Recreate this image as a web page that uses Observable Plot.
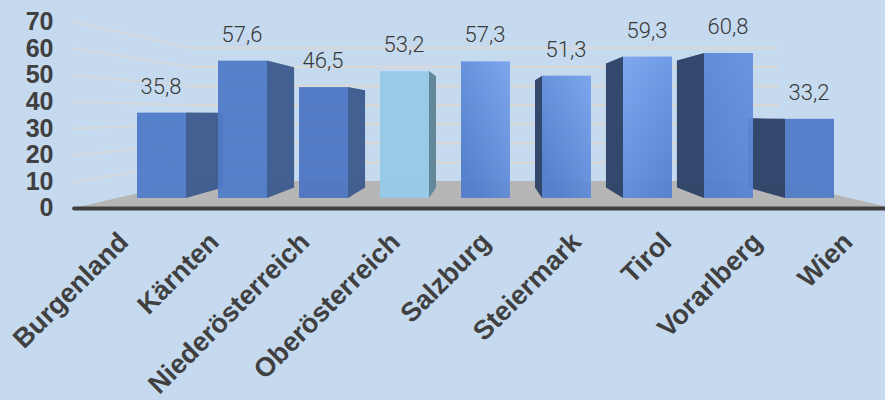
<!DOCTYPE html>
<html>
<head>
<meta charset="utf-8">
<script src="https://cdn.jsdelivr.net/npm/d3@7"></script>
<script src="https://cdn.jsdelivr.net/npm/@observablehq/plot@0.6"></script>
<style>
  html, body { margin: 0; padding: 0; background: #c5daef; overflow: hidden; }
  svg { display: block; }
</style>
</head>
<body>
<div id="chart"></div>
<script>
const regions = ["Burgenland", "Kärnten", "Niederösterreich", "Oberösterreich", "Salzburg", "Steiermark", "Tirol", "Vorarlberg", "Wien"];
const shares = [35.8, 57.6, 46.5, 53.2, 57.3, 51.3, 59.3, 60.8, 33.2];
const shareLabels = ["35,8", "57,6", "46,5", "53,2", "57,3", "51,3", "59,3", "60,8", "33,2"];
const gridValues = [0, 10, 20, 30, 40, 50, 60, 70];

// One-point perspective: depth 0 is the bars' front plane, positive depth
// runs towards the back wall, negative depth towards the viewer.
const vanishX = 4, vanishY = 35.6;
const barHalf = 0.3025;
const barDepth = 0.124, wallDepth = 0.2, floorFront = -0.1176;
const px = (x, d) => x + (vanishX - x) * d;
const py = (y, d) => y + (vanishY - y) * d;
const xMin = -0.55, xMax = 8.5;

const ink = "#404040";
const frontFill = (name) => ({
  "Oberösterreich": "#96cae9",
  "Salzburg": "url(#glowRight)",
  "Steiermark": "url(#glowRight)",
  "Tirol": "url(#glowLeft)",
  "Vorarlberg": "url(#glowSoft)",
  "Niederösterreich": "#4c75c2"
}[name] ?? "#4f7bc8");

const bars = regions.map((name, i) => ({name, i, value: shares[i], label: shareLabels[i]}));

// Visible side wall of each bar: towards the vanishing point from its inner edge.
const sideFaces = bars.filter((b) => b.i !== vanishX).flatMap((b) => {
  const edge = b.i < vanishX ? b.i + barHalf : b.i - barHalf;
  const fill = b.name === "Oberösterreich" ? "#5f8597" : b.i < vanishX ? "#3f5c90" : "#2e4368";
  return [0, barDepth].map((d) => ({
    key: b.name, fill,
    x: px(edge, d), y1: py(0, d), y2: py(b.value, d)
  }));
});

const floorOutline = [
  [px(xMin, floorFront), py(0, floorFront)],
  [px(xMin, wallDepth), py(0, wallDepth)],
  [px(xMax, wallDepth), py(0, wallDepth)],
  [px(xMax, floorFront), py(0, floorFront)]
].map(([x, y]) => ({x, y1: py(0, floorFront), y2: y}));

const backGrid = gridValues.filter((v) => v > 0).flatMap((v) => [xMin, xMax].map((x) => ({
  v, x: px(x, wallDepth), y: py(v, wallDepth)
})));
const sideGrid = gridValues.filter((v) => v > 0).flatMap((v) => [floorFront, wallDepth].map((d) => ({
  v, x: px(xMin, d), y: py(v, d)
})));
const baseline = [xMin, xMax].map((x) => ({x: px(x, floorFront), y: py(0, floorFront)}));

// Gradients for the highlighted front faces.
function gradients() {
  const defs = d3.create("svg:defs");
  const add = (id, x1, y1, x2, y2, a, b) => {
    const g = defs.append("linearGradient").attr("id", id)
      .attr("x1", x1).attr("y1", y1).attr("x2", x2).attr("y2", y2);
    g.append("stop").attr("offset", 0).attr("stop-color", a);
    g.append("stop").attr("offset", 1).attr("stop-color", b);
  };
  add("glowRight", 1, 0, 0.2, 0.9, "#78a3ee", "#527ccb");
  add("glowLeft", 0.1, 0, 0.7, 1, "#78a3ee", "#5581d2");
  add("glowSoft", 0.9, 0, 0.2, 0.9, "#6390dd", "#527ecd");
  return defs.node();
}

const chart = Plot.plot({
  width: 885,
  height: 400,
  marginLeft: 56,
  marginRight: 0,
  marginTop: 0,
  marginBottom: 191,
  style: {background: "#c5daef", overflow: "hidden"},
  x: {type: "linear", domain: [-0.5, 8.5], range: [121, 850], axis: null},
  y: {type: "linear", domain: [0, 70], range: [198, 31.05], axis: null},
  color: {type: "identity"},
  marks: [
    gradients,
    Plot.line(sideGrid, {x: "x", y: "y", z: "v", stroke: "#ded9d2", strokeWidth: 2.5, strokeOpacity: 0.55}),
    Plot.line(backGrid, {x: "x", y: "y", z: "v", stroke: "#d8d8d8", strokeWidth: 2.5}),
    Plot.areaY(floorOutline, {x: "x", y1: "y1", y2: "y2", fill: "#b6b6b6"}),
    Plot.line(baseline, {x: "x", y: "y", stroke: ink, strokeWidth: 4}),
    Plot.areaY(sideFaces, {x: "x", y1: "y1", y2: "y2", z: "key", fill: "fill", fillOpacity: 0.97}),
    Plot.rect(bars, {
      x1: (b) => b.i - barHalf,
      x2: (b) => b.i + barHalf,
      y1: 0,
      y2: "value",
      fill: (b) => frontFill(b.name),
      fillOpacity: 0.94,
      inset: 0
    }),
    Plot.text(bars, {
      x: "i",
      y: "value",
      text: "label",
      dx: -1,
      dy: -26.5,
      fontFamily: "Roboto",
      fontWeight: 300,
      fontSize: 22,
      fill: "#383838"
    }),
    Plot.axisY(gridValues, {
      anchor: "left",
      y: (v) => py(v, floorFront),
      text: (v) => String(v),
      tickSize: 0,
      tickPadding: 3,
      fontFamily: "Liberation Sans",
      fontWeight: "bold",
      fontSize: 25,
      fill: ink,
      label: null
    }),
    Plot.axisX(regions, {
      anchor: "bottom",
      x: (r) => px(regions.indexOf(r), floorFront),
      text: (r) => r,
      tickSize: 0,
      tickPadding: 28,
      tickRotate: -45,
      textAnchor: "end",
      fontFamily: "Liberation Sans",
      fontWeight: "bold",
      fontSize: 27,
      fill: ink,
      label: null
    })
  ]
});
document.getElementById("chart").append(chart);
</script>
</body>
</html>
